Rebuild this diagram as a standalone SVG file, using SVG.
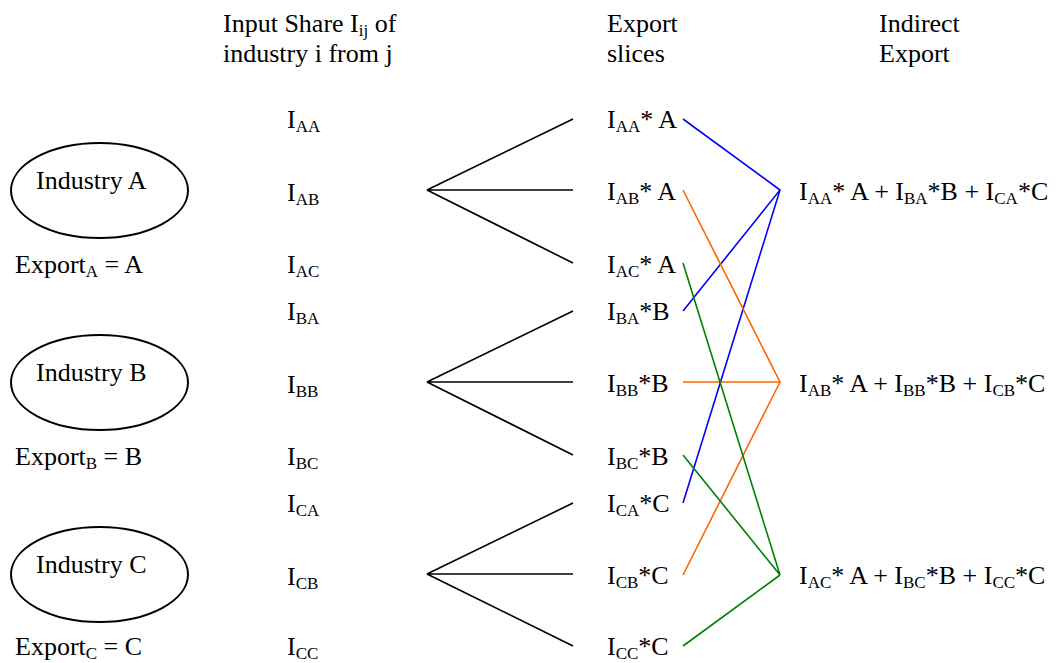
<svg xmlns="http://www.w3.org/2000/svg" width="1057" height="663" viewBox="0 0 1057 663">
<style>
text{font-family:"Liberation Serif","Times New Roman",serif;font-size:26px;fill:#000}
.s{font-size:17px}
.e{fill:none;stroke:#000;stroke-width:2}
.k{stroke:#000;stroke-width:1.6;fill:none}
.b{stroke:#0000ff;stroke-width:1.6;fill:none}
.o{stroke:#ff6600;stroke-width:1.6;fill:none}
.g{stroke:#008000;stroke-width:1.6;fill:none}
</style>
<rect width="1057" height="663" fill="#fff"/>
<g id="headers">
<text x="223" y="32">Input Share I<tspan class="s" dy="4">ij</tspan><tspan dy="-4"> of</tspan></text>
<text x="223" y="62">industry i from j</text>
<text x="607" y="32">Export</text>
<text x="607" y="62">slices</text>
<text x="879" y="32">Indirect</text>
<text x="879" y="62">Export</text>
</g>
<g id="industryA">
<ellipse class="e" cx="99.5" cy="190.5" rx="88.5" ry="47.5"/>
<text x="36" y="189">Industry A</text>
</g>
<g id="exportA"><text x="15" y="273">Export<tspan class="s" dy="4">A</tspan><tspan dy="-4"> = A</tspan></text></g>
<g id="industryB">
<ellipse class="e" cx="99.5" cy="382.5" rx="88.5" ry="47.5"/>
<text x="36" y="381">Industry B</text>
</g>
<g id="exportB"><text x="15" y="465">Export<tspan class="s" dy="4">B</tspan><tspan dy="-4"> = B</tspan></text></g>
<g id="industryC">
<ellipse class="e" cx="99.5" cy="574.5" rx="88.5" ry="47.5"/>
<text x="36" y="573">Industry C</text>
</g>
<g id="exportC"><text x="15" y="655">Export<tspan class="s" dy="4">C</tspan><tspan dy="-4"> = C</tspan></text></g>
<g id="shares">
<text x="287" y="128">I<tspan class="s" dy="4">AA</tspan></text>
<text x="287" y="201">I<tspan class="s" dy="4">AB</tspan></text>
<text x="287" y="273">I<tspan class="s" dy="4">AC</tspan></text>
<text x="287" y="320">I<tspan class="s" dy="4">BA</tspan></text>
<text x="287" y="393">I<tspan class="s" dy="4">BB</tspan></text>
<text x="287" y="465">I<tspan class="s" dy="4">BC</tspan></text>
<text x="287" y="512">I<tspan class="s" dy="4">CA</tspan></text>
<text x="287" y="585">I<tspan class="s" dy="4">CB</tspan></text>
<text x="287" y="655">I<tspan class="s" dy="4">CC</tspan></text>
</g>
<g id="slices">
<text x="607" y="128">I<tspan class="s" dy="4">AA</tspan><tspan dy="-4">* A</tspan></text>
<text x="607" y="200">I<tspan class="s" dy="4">AB</tspan><tspan dy="-4">* A</tspan></text>
<text x="607" y="273">I<tspan class="s" dy="4">AC</tspan><tspan dy="-4">* A</tspan></text>
<text x="607" y="320">I<tspan class="s" dy="4">BA</tspan><tspan dy="-4">*B</tspan></text>
<text x="607" y="392">I<tspan class="s" dy="4">BB</tspan><tspan dy="-4">*B</tspan></text>
<text x="607" y="465">I<tspan class="s" dy="4">BC</tspan><tspan dy="-4">*B</tspan></text>
<text x="607" y="512">I<tspan class="s" dy="4">CA</tspan><tspan dy="-4">*C</tspan></text>
<text x="607" y="584">I<tspan class="s" dy="4">CB</tspan><tspan dy="-4">*C</tspan></text>
<text x="607" y="655">I<tspan class="s" dy="4">CC</tspan><tspan dy="-4">*C</tspan></text>
</g>
<g id="indirectA"><text x="799" y="200">I<tspan class="s" dy="4">AA</tspan><tspan dy="-4">* A + I</tspan><tspan class="s" dy="4">BA</tspan><tspan dy="-4">*B + I</tspan><tspan class="s" dy="4">CA</tspan><tspan dy="-4">*C</tspan></text></g>
<g id="indirectB"><text x="799" y="392">I<tspan class="s" dy="4">AB</tspan><tspan dy="-4">* A + I</tspan><tspan class="s" dy="4">BB</tspan><tspan dy="-4">*B + I</tspan><tspan class="s" dy="4">CB</tspan><tspan dy="-4">*C</tspan></text></g>
<g id="indirectC"><text x="799" y="584">I<tspan class="s" dy="4">AC</tspan><tspan dy="-4">* A + I</tspan><tspan class="s" dy="4">BC</tspan><tspan dy="-4">*B + I</tspan><tspan class="s" dy="4">CC</tspan><tspan dy="-4">*C</tspan></text></g>
<g id="connectors">
<path class="k" d="M573,119 L427,190 L573,190 M427,190 L573,263"/>
<path class="k" d="M573,311 L427,382 L573,382 M427,382 L573,455"/>
<path class="k" d="M573,503 L427,574 L573,574 M427,574 L573,646"/>
<path class="b" d="M683,119 L780,190 L683,311 M780,190 L683,503"/>
<path class="o" d="M683,190 L780,382 L683,382 M780,382 L683,575"/>
<path class="g" d="M683,263 L780,575 L683,455 M780,575 L683,646"/>
</g>
</svg>
